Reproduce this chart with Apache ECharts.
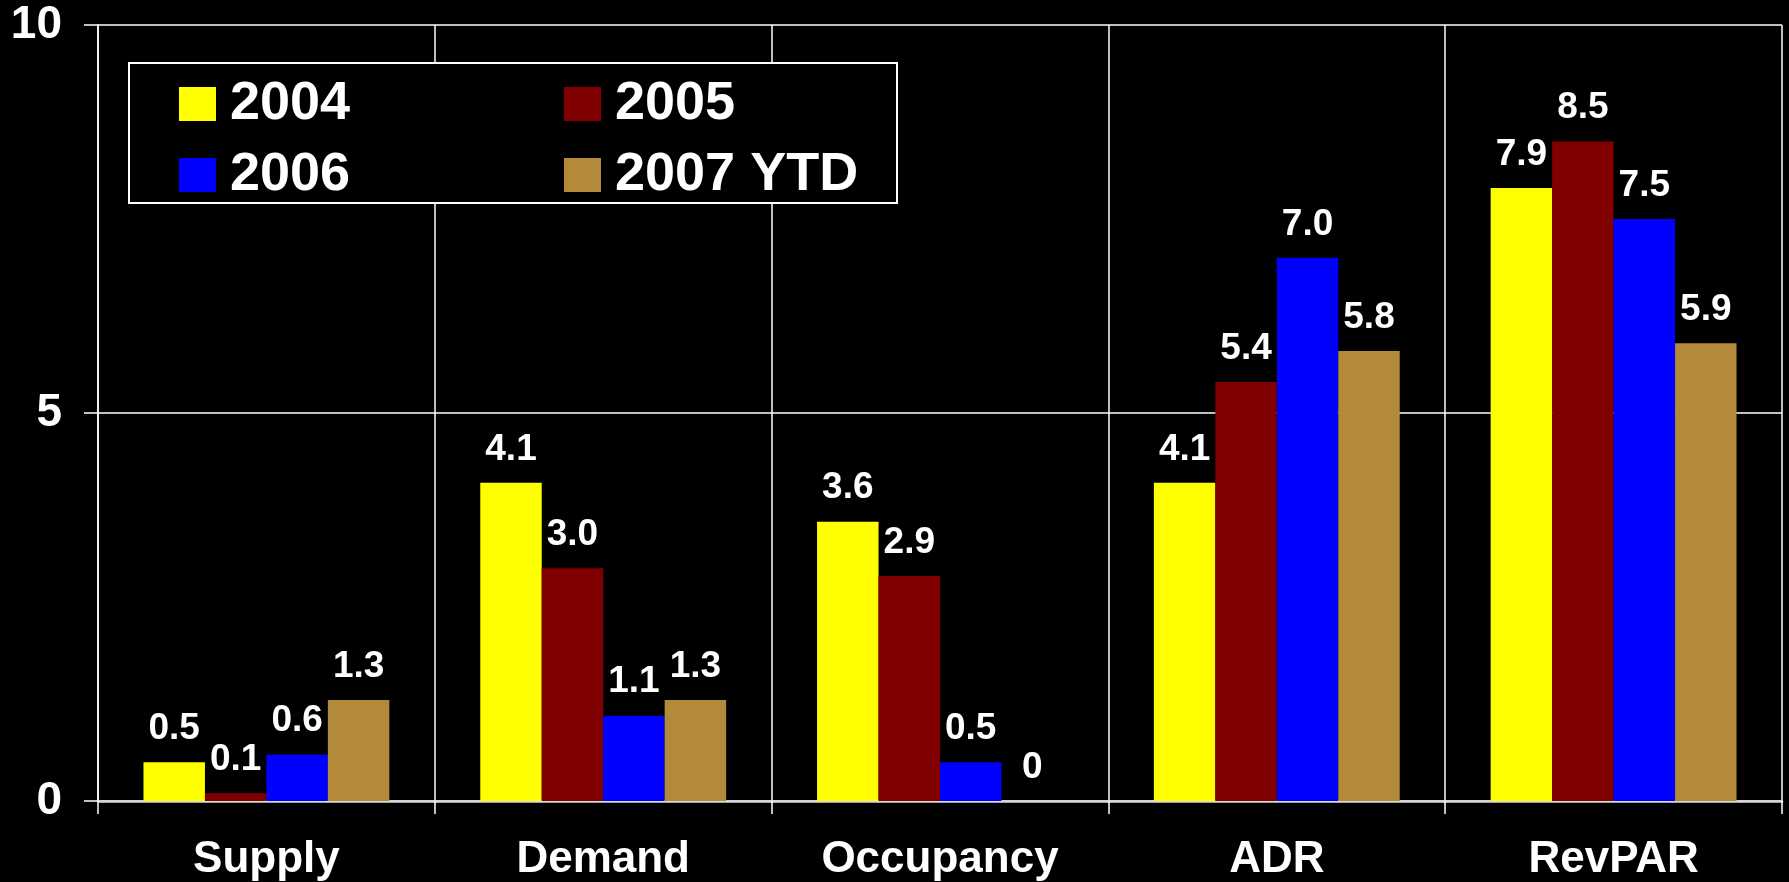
<!DOCTYPE html>
<html>
<head>
<meta charset="utf-8">
<title>Supply, Demand, Occupancy, ADR, RevPAR</title>
<script src="https://cdn.jsdelivr.net/npm/echarts@6/dist/echarts.min.js"></script>
<style>
  html, body { margin: 0; padding: 0; background: #000; }
  #chart { width: 1789px; height: 882px; }
</style>
</head>
<body>
<div id="chart"></div>
<script>
// categories and yearly % change
var categories = ['Supply', 'Demand', 'Occupancy', 'ADR', 'RevPAR']
var years = ['2004', '2005', '2006', '2007 YTD']
var y2004 = [0.5, 4.1, 3.6, 4.1, 7.9]
var y2005 = [0.1, 3.0, 2.9, 5.4, 8.5]
var y2006 = [0.6, 1.1, 0.5, 7.0, 7.5]
var y2007 = [1.3, 1.3, 0, 5.8, 5.9]
var yTicks = [0, 5, 10]

var colors = ['#ffff00', '#800000', '#0000ff', '#b3893a']
var font = '"Liberation Sans", Arial, sans-serif'

var chart = echarts.init(document.getElementById('chart'))

function buildSeries() {
  var data = [y2004, y2005, y2006, y2007]
  return data.map(function (values, i) {
    return {
      name: years[i],
      type: 'bar',
      barGap: 0,
      barCategoryGap: '27%',
      itemStyle: { color: colors[i] },
      label: {
        show: true,
        position: 'top',
        distance: 15,
        color: '#fff',
        fontFamily: font,
        fontWeight: 'bold',
        fontSize: 37,
        formatter: function (p) {
          return p.value === 0 ? '0' : p.value.toFixed(1)
        }
      },
      data: values,
      z: 2
    }
  })
}

function legendOpt(names, left) {
  return {
    data: names,
    orient: 'vertical',
    left: left,
    top: 77,
    padding: 0,
    icon: 'rect',
    itemWidth: 37,
    itemHeight: 34,
    itemGap: 17,
    selectedMode: false,
    textStyle: {
      color: '#fff',
      fontFamily: font,
      fontWeight: 'bold',
      fontSize: 54,
      lineHeight: 52,
      padding: [0, 0, 0, 9]
    },
    z: 6
  }
}

chart.setOption({
  backgroundColor: '#000',
  animation: false,
  color: colors,
  grid: {
    left: 98,
    right: 7,
    top: 25,
    bottom: 81
  },
  legend: [
    legendOpt([years[0], years[2]], 179),
    legendOpt([years[1], years[3]], 564)
  ],
  graphic: [{
    type: 'rect',
    left: 128,
    top: 62,
    shape: { width: 768, height: 140 },
    style: { fill: '#000', stroke: '#fff', lineWidth: 2 },
    z: 5
  }],
  xAxis: {
    type: 'category',
    data: categories,
    axisLine: { lineStyle: { color: '#d9d9d9', width: 2.5 } },
    axisTick: { show: true, length: 13, lineStyle: { color: '#fff', width: 1.5 } },
    splitLine: { show: true, lineStyle: { color: '#fff', width: 1.5 } },
    axisLabel: {
      color: '#fff',
      fontFamily: font,
      fontWeight: 'bold',
      fontSize: 44,
      margin: 37
    }
  },
  yAxis: {
    type: 'value',
    min: yTicks[0],
    max: yTicks[yTicks.length - 1],
    interval: yTicks[1] - yTicks[0],
    axisLine: { show: true, lineStyle: { color: '#fff', width: 1.5 } },
    axisTick: { show: true, length: 14, lineStyle: { color: '#fff', width: 1.5 } },
    splitLine: { show: true, lineStyle: { color: '#fff', width: 1.5 } },
    axisLabel: {
      color: '#fff',
      fontFamily: font,
      fontWeight: 'bold',
      fontSize: 46,
      margin: 36
    }
  },
  series: buildSeries()
})
</script>
</body>
</html>
